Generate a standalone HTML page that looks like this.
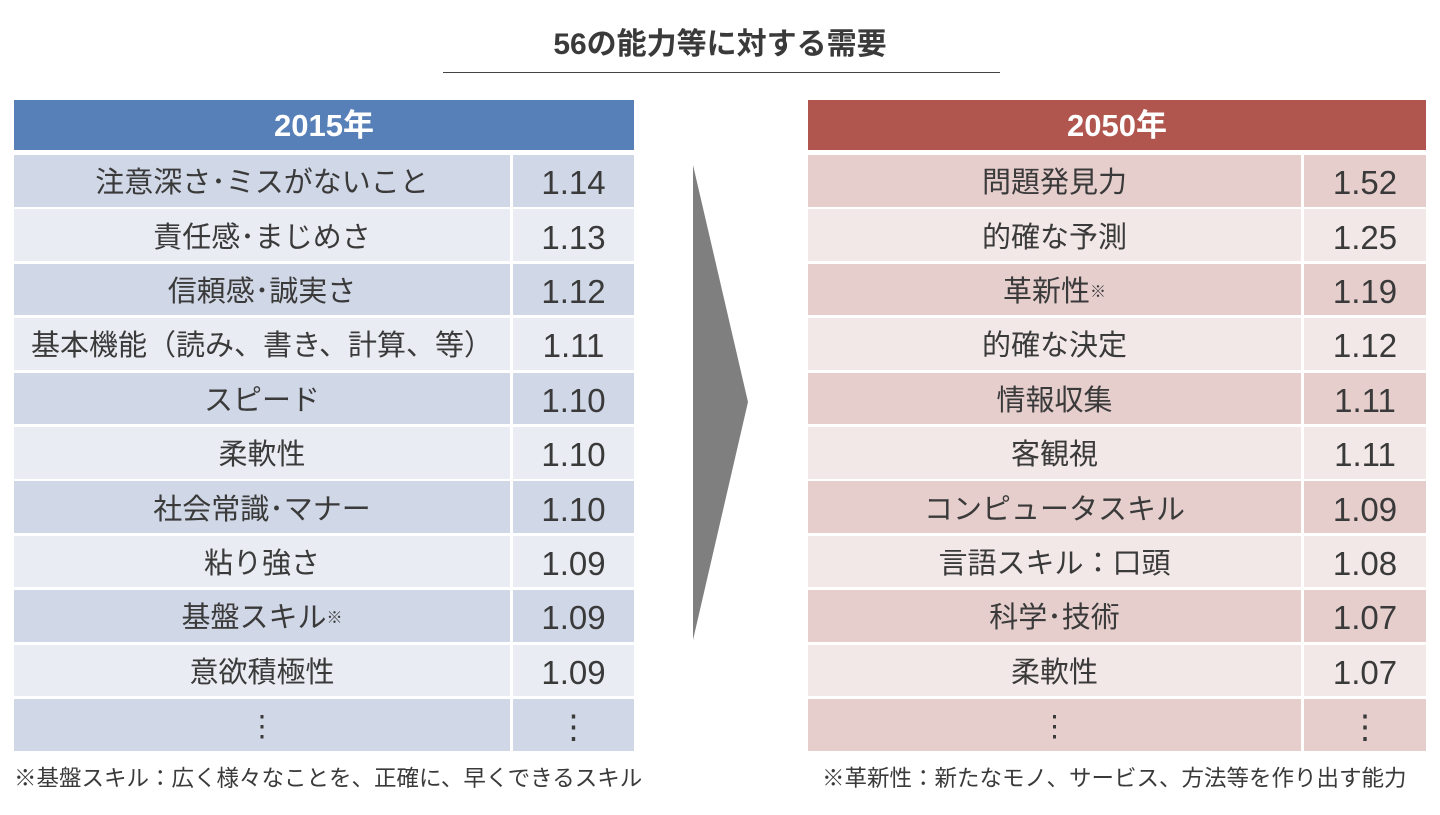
<!DOCTYPE html>
<html><head><meta charset="utf-8"><style>
body{margin:0;width:1440px;height:815px;background:#fff;position:relative;overflow:hidden;font-family:"Liberation Sans","Noto Sans CJK JP",sans-serif;color:#3a3a3a}
.a{position:absolute;box-sizing:border-box;display:flex;align-items:center;justify-content:center;white-space:nowrap;line-height:1}
.h{color:#fff;font-weight:bold;font-size:31px}
.c{font-size:29px;padding-top:6px}
.n{font-size:33px;padding-top:4px}
sup{font-size:16px;vertical-align:top;line-height:1}
</style></head><body>
<div class="a" style="left:440px;top:25px;width:560px;height:40px;font-size:30px;font-weight:bold">56の能力等に対する需要</div>
<div style="position:absolute;left:443px;top:72px;width:557px;height:1px;background:#444"></div>
<div class="a h" style="left:14px;top:100px;width:620px;height:50px;background:#5880b8">2015年</div>
<div class="a h" style="left:808px;top:100px;width:618px;height:50px;background:#b1564f">2050年</div>
<svg style="position:absolute;left:0;top:0" width="1440" height="815"><polygon points="693,165 748,402 693,640" fill="#7f7f7f"/></svg>
<div id="t"></div>
<div class="a" style="left:14px;top:762px;width:640px;height:34px;font-size:22.5px;justify-content:flex-start">※基盤スキル：広く様々なことを、正確に、早くできるスキル</div>
<div class="a" style="left:822px;top:762px;width:620px;height:34px;font-size:22.5px;justify-content:flex-start">※革新性：新たなモノ、サービス、方法等を作り出す能力</div>
<script>
var L=[["注意深さ･ミスがないこと","1.14"],["責任感･まじめさ","1.13"],["信頼感･誠実さ","1.12"],["基本機能（読み、書き、計算、等）","1.11"],["スピード","1.10"],["柔軟性","1.10"],["社会常識･マナー","1.10"],["粘り強さ","1.09"],["基盤スキル<sup>※</sup>","1.09"],["意欲積極性","1.09"],["⋮","⋮"]];
var R=[["問題発見力","1.52"],["的確な予測","1.25"],["革新性<sup>※</sup>","1.19"],["的確な決定","1.12"],["情報収集","1.11"],["客観視","1.11"],["コンピュータスキル","1.09"],["言語スキル：口頭","1.08"],["科学･技術","1.07"],["柔軟性","1.07"],["⋮","⋮"]];
var h="";
for(var i=0;i<11;i++){var y=153+i*54.4+2,hh=51.5;
var lc=i%2?"#e9ecf3":"#d0d7e6",rc=i%2?"#f2e8e7":"#e6cecd";
h+='<div class="a c" style="left:14px;top:'+y+'px;width:496px;height:'+hh+'px;background:'+lc+'">'+L[i][0]+'</div>';
h+='<div class="a c n" style="left:513px;top:'+y+'px;width:121px;height:'+hh+'px;background:'+lc+'">'+L[i][1]+'</div>';
h+='<div class="a c" style="left:808px;top:'+y+'px;width:493px;height:'+hh+'px;background:'+rc+'">'+R[i][0]+'</div>';
h+='<div class="a c n" style="left:1304px;top:'+y+'px;width:122px;height:'+hh+'px;background:'+rc+'">'+R[i][1]+'</div>';}
document.getElementById("t").innerHTML=h;
</script>
</body></html>
